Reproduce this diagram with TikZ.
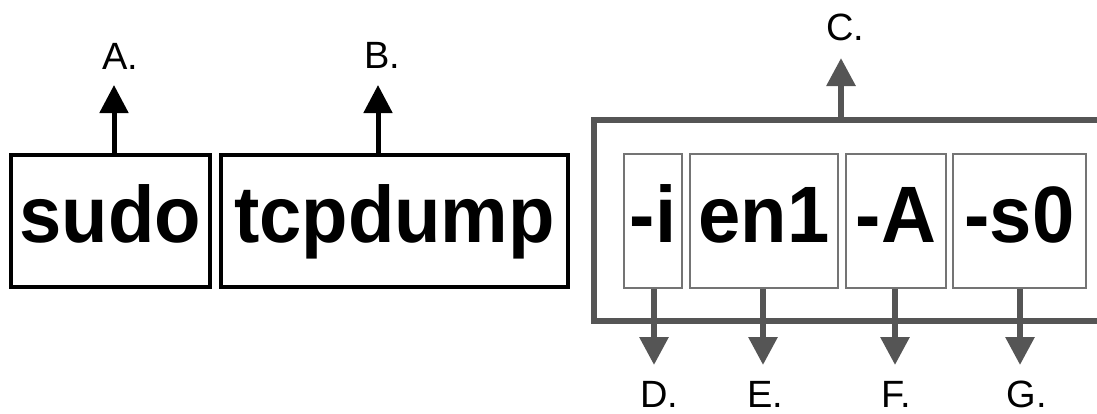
\documentclass[tikz,border=0pt]{standalone}
\usepackage{fontspec}
\setmainfont{Liberation Sans}
\newfontfamily\bigf{Liberation Sans}[FakeStretch=0.95]
\usetikzlibrary{arrows.meta}
\definecolor{dg}{HTML}{555555}
\definecolor{lg}{HTML}{747474}
\tikzset{
  bigtext/.style={font=\bigf\fontsize{80}{84}\selectfont\bfseries, text height=60pt, text depth=18pt},
  cmd/.style={bigtext, draw=black, line width=4pt, minimum width=#1, minimum height=132pt, inner sep=0pt},
  opt/.style={bigtext, draw=lg, line width=1.6pt, minimum width=#1, minimum height=134pt, inner sep=0pt},
  group/.style={draw=dg, line width=6pt, minimum width=540pt, minimum height=201pt, inner sep=0pt},
  uparr/.style={draw=black, line width=5pt, -{Triangle[length=28pt,width=28pt]}},
  garr/.style={draw=dg, line width=6pt, -{Triangle[length=28pt,width=28pt]}},
  lab/.style={font=\fontsize{38}{40}\selectfont, inner sep=0pt},
}
\begin{document}
\begin{tikzpicture}[x=1pt,y=-1pt]
\useasboundingbox (0,0) rectangle (1097,413);
\clip (0,0) rectangle (1097,413);
% group box (extends past right edge)
\node[group] (grp) at (864,220.5) {};
% command boxes
\node[cmd=199.5] (sudo) at (110.25,221) {sudo};
\node[cmd=347] (tcp) at (394.5,221) {tcpdump};
% option boxes
\node[opt=58] (oi) at (653,221) {-i};
\node[opt=148] (oen) at (764,221) {en1};
\node[opt=100] (oA) at (896,221) {-A};
\node[opt=133] (os) at (1019.5,221) {-s0};
% labels
\node[lab] (la) at (120,56) {A.};
\node[lab] (lb) at (382,55) {B.};
\node[lab] (lc) at (845,27.5) {C.};
\node[lab] (ld) at (659,394) {D.};
\node[lab] (le) at (765,394) {E.};
\node[lab] (lf) at (896,394) {F.};
\node[lab] (lgg) at (1027,394) {G.};
% arrow tips
\coordinate (ta) at (114,85);
\coordinate (tb) at (378,85);
\coordinate (tc) at (841,58);
\coordinate (td) at (654,365);
\coordinate (te) at (763,365);
\coordinate (tf) at (895,365);
\coordinate (tg) at (1020,365);
% connectors
\draw[uparr] (ta |- sudo.north) -- (ta);
\draw[uparr] (tb |- tcp.north) -- (tb);
\draw[garr] (tc |- grp.north) -- (tc);
\draw[garr] (td |- oi.south) -- (td);
\draw[garr] (te |- oen.south) -- (te);
\draw[garr] (tf |- oA.south) -- (tf);
\draw[garr] (tg |- os.south) -- (tg);
\end{tikzpicture}
\end{document}
